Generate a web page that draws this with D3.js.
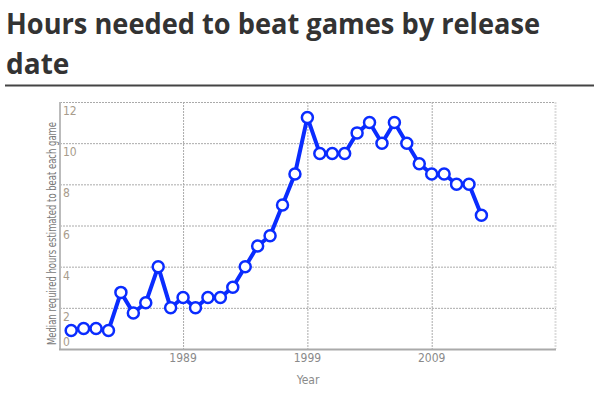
<!DOCTYPE html>
<html>
<head>
<meta charset="utf-8">
<script src="https://cdn.jsdelivr.net/npm/d3@7"></script>
<style>
  body { margin: 0; background: #fff; }
  svg { display: block; }
  .title { font-family: "Open Sans", "Noto Sans", sans-serif; font-weight: bold; fill: #333; }
  .ax { font-family: "Liberation Sans Narrow", "DejaVu Sans Condensed", "Liberation Sans", sans-serif; }
</style>
</head>
<body>
<svg width="600" height="396"></svg>
<script>
const years = d3.range(1980, 2014);
const hours = [0.9, 1, 1, 0.9, 2.75, 1.75, 2.25, 4, 2, 2.5, 2, 2.5, 2.5, 3,
               4, 5, 5.5, 7, 8.5, 11.25, 9.5, 9.5, 9.5, 10.5, 11, 10, 11, 10,
               9, 8.5, 8.5, 8, 8, 6.5];
const yTicks = [0, 2, 4, 6, 8, 10, 12];
const xTicks = [1989, 1999, 2009];
const titleLines = ["Hours needed to beat games by release", "date"];

const svg = d3.select("svg");
const x = d3.scaleLinear().domain([1979.1, 2019]).range([60, 556]);
const y = d3.scaleLinear().domain([0, 12]).range([349, 102]);

// title
svg.selectAll("text.title").data(titleLines).enter()
  .append("text").attr("class", "title")
  .attr("x", 6).attr("y", (d, i) => 34 + i * 40)
  .attr("font-size", 28)
  .attr("textLength", (d, i) => i === 0 ? 534 : null)
  .attr("lengthAdjust", "spacingAndGlyphs")
  .text(d => d);
svg.append("line").attr("x1", 5).attr("x2", 594).attr("y1", 85.5).attr("y2", 85.5)
  .attr("stroke", "#444").attr("stroke-width", 2);

// grid
const grid = svg.append("g");
grid.selectAll("line.h").data(yTicks.filter(d => d > 0)).enter().append("line")
  .attr("x1", 60).attr("x2", 556).attr("y1", d => y(d) + 0.5).attr("y2", d => y(d) + 0.5)
  .attr("stroke", "#aaa").attr("stroke-dasharray", "2,1");
grid.selectAll("line.v").data(xTicks).enter().append("line")
  .attr("x1", d => x(d) + 0.5).attr("x2", d => x(d) + 0.5).attr("y1", 102).attr("y2", 349)
  .attr("stroke", "#aaa").attr("stroke-dasharray", "2,1");
grid.append("line").attr("x1", 555.5).attr("x2", 555.5).attr("y1", 102).attr("y2", 349)
  .attr("stroke", "#ddd").attr("stroke-width", 2).attr("stroke-dasharray", "2,1");

// axes
svg.append("line").attr("x1", 60).attr("x2", 60).attr("y1", 102).attr("y2", 350)
  .attr("stroke", "#bbb").attr("stroke-width", 2);
svg.append("line").attr("x1", 59).attr("x2", 556).attr("y1", 349.5).attr("y2", 349.5)
  .attr("stroke", "#aaa").attr("stroke-width", 2);

svg.selectAll("text.yt").data(yTicks).enter().append("text").attr("class", "ax")
  .attr("x", 63).attr("y", d => d === 0 ? y(d) - 3 : y(d) + 13)
  .attr("font-size", 12).attr("fill", "#a89c8c").text(d => d);
svg.selectAll("text.xt").data(xTicks).enter().append("text").attr("class", "ax")
  .attr("x", d => x(d)).attr("y", 362).attr("text-anchor", "middle")
  .attr("font-size", 12).attr("fill", "#8a8a8a").text(d => d);
svg.append("text").attr("class", "ax").attr("x", 308).attr("y", 384)
  .attr("text-anchor", "middle").attr("font-size", 12).attr("fill", "#8a8a8a").text("Year");
svg.append("text").attr("class", "ax")
  .attr("transform", "translate(56,233.5) rotate(-90)")
  .attr("text-anchor", "middle").attr("font-size", 13).attr("fill", "#777")
  .attr("textLength", 223).attr("lengthAdjust", "spacingAndGlyphs")
  .text("Median required hours estimated to beat each game");

// series
const data = years.map((yr, i) => ({yr, h: hours[i]}));
svg.append("path").datum(data)
  .attr("d", d3.line().x(d => x(d.yr)).y(d => y(d.h)))
  .attr("fill", "none").attr("stroke", "#0a2cff").attr("stroke-width", 4)
  .attr("stroke-linejoin", "round");
svg.selectAll("circle").data(data).enter().append("circle")
  .attr("cx", d => x(d.yr)).attr("cy", d => y(d.h)).attr("r", 5.5)
  .attr("fill", "#fff").attr("stroke", "#0a2cff").attr("stroke-width", 2.5);
</script>
</body>
</html>
